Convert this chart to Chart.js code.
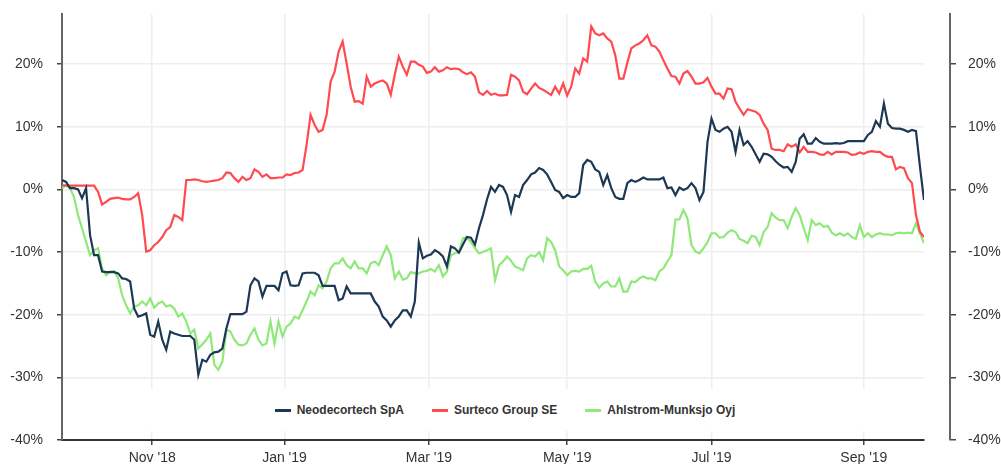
<!DOCTYPE html>
<html>
<head>
<meta charset="utf-8">
<script src="https://cdn.jsdelivr.net/npm/chart.js@4/dist/chart.umd.min.js"></script>
<style>
  body { margin: 0; background: #fff; }
  #wrap { position: relative; width: 1001px; height: 464px; }
  #legend {
    position: absolute; left: 63px; top: 389px; width: 860px; height: 42px;
    box-sizing: border-box; padding-left: 24px;
    background: #fff; display: flex; justify-content: center; align-items: center; gap: 28px;
    font: bold 12px "Liberation Sans", Arial, sans-serif; color: #333;
  }
  .item { display: flex; align-items: center; }
  .swatch { width: 16px; height: 3px; margin-right: 6px; }
</style>
</head>
<body>
<div id="wrap">
  <canvas id="chart" width="1001" height="464"></canvas>
  <div id="legend"></div>
</div>
<script>
// relative performance (%), one value per trading session, Sep '18 -> Sep '19
const seriesNames = ["Neodecortech SpA", "Surteco Group SE", "Ahlstrom-Munksjo Oyj"];
const seriesColors = ["#1d3854", "#ff4a4f", "#8fe879"];

const neodecortech = [
  1.5, 1.2, 0.2, 0.2, 0, -1.4, 0.2, -7.3, -10.5, -10.5,
  -13.1, -13.2, -13.2, -13.2, -13.4, -14.2, -14.3, -14.7, -19, -20.3,
  -20.1, -19.8, -23.2, -23.5, -21.1, -24, -25.6, -22.7, -23, -23.2,
  -23.4, -23.4, -23.4, -24, -29.6, -27.2, -27.5, -26.4, -26, -25.9,
  -25.4, -22.2, -19.9, -19.9, -19.9, -19.9, -19.5, -15.3, -14.2, -14.7,
  -17.1, -15.4, -15.4, -15.4, -16.1, -13.4, -13.1, -15.3, -15.4, -15.3,
  -13.4, -13.3, -13.3, -13.3, -13.7, -15.4, -15.4, -15.4, -15.4, -17.7,
  -17.4, -15.5, -16.6, -16.6, -16.6, -16.6, -16.6, -16.6, -17.9, -18.7,
  -20.3, -20.9, -21.9, -20.9, -20.3, -19.3, -19.3, -20.3, -17.9, -8.5,
  -11, -10.6, -10.4, -9.7, -10.1, -10.7, -12.3, -9.1, -9.4, -10.1,
  -8.8, -7.6, -7.7, -8.8, -6.2, -4.1, -1.6, 0.4, -0.4, 0.7,
  0.4, -0.9, -3.6, -0.9, -1.2, 0.7, 1.5, 2.4, 2.7, 3.4,
  3.1, 2.4, 1.2, -0.1, -0.4, -1.4, -0.9, -1.2, -1.2, -0.6,
  3.9, 4.7, 4.4, 3.2, 2.8, 0.7, 2.3, 0.2, -1.2, -1.5,
  -1.5, 1.0, 1.5, 1.2, 1.5, 1.9, 1.6, 1.6, 1.6, 1.6,
  1.9, 0.2, 0.3, -0.9, 0.3, -0.1, 0.2, 1, 0.2, -1.7,
  -0.4, 7.6, 11.3, 9.5, 9.2, 9.7, 10, 9.2, 6, 9.5,
  7.1, 7.7, 6.8, 5.6, 4.4, 5.7, 5.6, 5.2, 4.5, 3.9,
  3.5, 3.6, 2.8, 4.4, 8.1, 8.8, 7.3, 7.3, 8.2, 7.6,
  7.3, 7.3, 7.3, 7.4, 7.3, 7.4, 7.7, 7.7, 7.7, 7.7,
  7.7, 8.7, 9.2, 10.9, 10, 13.7, 10.5, 9.8, 9.7, 9.7,
  9.5, 9.2, 9.5, 9.3, 3.6, -1.7
];

const surteco = [
  0.7, 0.6, 0.6, 0.6, 0.6, 0.6, 0.6, 0.6, 0.6, -0.4,
  -2.4, -2.0, -1.5, -1.4, -1.3, -1.5, -1.6, -1.6, -1.2, -0.6,
  -4.1, -9.9, -9.7, -8.9, -8.4, -7.6, -6.5, -6.0, -4.1, -4.4,
  -4.9, 1.5, 1.5, 1.6, 1.5, 1.3, 1.2, 1.3, 1.4, 1.5,
  1.8, 2.7, 2.6, 1.8, 1.2, 2.0, 1.5, 1.8, 3.2, 2.8,
  2.0, 2.4, 1.8, 1.8, 1.9, 1.9, 2.4, 2.3, 2.6, 2.7,
  3.1, 7.1, 11.9, 10.3, 9.2, 9.5, 11.9, 17.2, 18.8, 22,
  23.6, 20.1, 16.4, 14, 14.1, 13.7, 18, 16.4, 16.9, 17.2,
  17.4, 16.9, 15.1, 18.3, 21.2, 19.6, 18.3, 20.4, 20.4, 19.9,
  19.6, 18.6, 18.8, 19.5, 18.8, 19, 19.5, 19.2, 19.3, 19.2,
  18.7, 18.4, 18.7, 18, 15.5, 15.1, 15.7, 15.1, 15.3, 15,
  15, 15.1, 18.3, 18, 17.4, 15.6, 15.2, 16.1, 16.9, 16.2,
  15.9, 15.5, 15.1, 16.4, 15.3, 16.9, 15, 16.4, 19.3, 18.5,
  20.9, 20.4, 26, 24.9, 24.6, 24.9, 24.1, 23.6, 21.4, 17.7,
  17.7, 20.2, 22.5, 23, 23.3, 23.8, 24.6, 23, 22.8, 22,
  20.6, 19.3, 18.1, 18, 16.9, 18.5, 18.9, 18, 16.9, 16.9,
  17.1, 17.8, 16.4, 15.3, 15.3, 14.5, 16.1, 16, 14, 12.9,
  11.9, 12.8, 12.6, 12.4, 11.9, 10.5, 9.5, 6.5, 6.3, 6.3,
  6.1, 7.2, 6.8, 7.2, 5.9, 6.8, 6, 6, 5.9, 5.6,
  5.5, 6, 5.6, 6, 6, 6, 5.9, 5.5, 5.6, 5.9,
  5.7, 6, 6.1, 6, 6, 5.5, 5.2, 5.2, 3.2, 3.6,
  3.4, 1.8, 1, -4.1, -6.8, -7.6
];

const ahlstrom = [
  0.2, 0.7, 0.2, -1.2, -4.1, -6.2, -8.4, -10.5, -9.7, -9.4,
  -12.6, -13.7, -13.1, -13, -14.2, -16.9, -18.5, -19.8, -18.7, -18.5,
  -17.9, -18.5, -17.4, -18.9, -18.2, -17.9, -18.7, -18.5, -19, -20.3,
  -19.8, -21.1, -23, -22.4, -25.4, -24.7, -24, -23, -28, -28.8,
  -27.5, -22.4, -22.7, -24, -24.8, -24.9, -24.6, -23.2, -22.2, -24,
  -24.9, -24.6, -21.1, -24.6, -21.1, -23.5, -21.9, -21.4, -20.3, -20.6,
  -19.3, -17.9, -16.3, -16.9, -15.3, -15.8, -14.7, -12.6, -11.8, -11.8,
  -11, -12.1, -12.6, -11.5, -12.6, -12.6, -13.4, -11.8, -11.5, -12.1,
  -10.5, -9.1, -10.5, -14.2, -13.1, -14.4, -14.2, -13.2, -13.4, -13.4,
  -13.1, -13, -12.7, -13.1, -12.1, -13.9, -13.1, -10.5, -10.2, -10,
  -7.8, -7.7, -8.4, -9.4, -10.2, -10, -9.7, -9.4, -14.5, -12.1,
  -11.5, -10.7, -11.4, -12.3, -12.6, -12.9, -11, -10.5, -10.7, -10,
  -11.3, -7.8, -8.4, -9.7, -12.3, -12.9, -13.7, -13.1, -13, -13.1,
  -12.7, -12.7, -12.2, -14.7, -15.7, -15, -14.7, -15.5, -15.5, -14.2,
  -16.3, -16.3, -14.7, -14.8, -14.2, -13.9, -14.2, -14.2, -14.5, -13.1,
  -12.6, -11.5, -10.5, -4.8, -4.8, -3.3, -4.6, -8.9, -9.9, -10.2,
  -9.4, -8.4, -7, -7, -7.7, -7.6, -6.9, -6.5, -6.8, -7.9,
  -8.2, -8.6, -7.4, -7.6, -8.9, -6.8, -6, -3.8, -4.5, -4.9,
  -4.9, -6.2, -4.4, -3, -4.1, -6.2, -8.1, -4.9, -5.7, -5.4,
  -6, -5.8, -6.9, -7.3, -7, -7.4, -7, -7.6, -7.9, -5.7,
  -7.6, -7, -7.6, -7.2, -7, -7.2, -7.2, -7.3, -7, -6.9,
  -7, -6.9, -7, -5.4, -7, -8.6
];

// session index where each labelled month starts
const monthTicks = [22.5, 55.5, 91.5, 126, 162, 200];
const monthLabels = ["Nov '18", "Jan '19", "Mar '19", "May '19", "Jul '19", "Sep '19"];

// y ticks (%)
const yMin = -40;
const yMax = 28;
const yStep = 10;

// ==================== SETUP ====================

const sessions = neodecortech.map((v, i) => i);
const allSeries = [neodecortech, surteco, ahlstrom];

Chart.defaults.font.family = '"Liberation Sans", Arial, sans-serif';
Chart.defaults.font.size = 14;
Chart.defaults.color = "#333";

const GRID = "#eeeeee";
const TICK = "#444";
const RIGHT_GAP = 26;

// push the right axis away from the plot, like the original
const shiftRightAxis = {
  id: "shiftRightAxis",
  afterLayout(chart) {
    const s = chart.scales.yRight;
    s.left += RIGHT_GAP;
    s.right += RIGHT_GAP;
  },
};

function yAxis(position) {
  const isLeft = position === "left";
  return {
    type: "linear",
    position: position,
    min: yMin,
    max: yMax,
    ticks: {
      stepSize: yStep,
      includeBounds: false,
      padding: isLeft ? 14 : 12,
      callback: (v) => v + "%",
    },
    grid: {
      color: GRID,
      lineWidth: 1.5,
      drawOnChartArea: isLeft,
      tickColor: TICK,
      tickLength: isLeft ? 5 : 6,
    },
    border: { display: true, color: "#666", width: 2 },
    afterFit: (scale) => {
      scale.width = isLeft ? 62 : 1001 - 924;
      scale.paddingTop = 0;
      scale.paddingBottom = 0;
    },
  };
}

new Chart(document.getElementById("chart"), {
  type: "line",
  data: {
    labels: sessions,
    datasets: allSeries.map((data, i) => ({
      label: seriesNames[i],
      data: data,
      borderColor: seriesColors[i],
      backgroundColor: seriesColors[i],
      borderWidth: 2.2,
      pointRadius: 0,
      tension: 0,
      yAxisID: "y",
    })),
  },
  options: {
    responsive: false,
    animation: false,
    layout: { padding: { top: 14, left: 0, right: 0, bottom: 0 } },
    plugins: {
      legend: { display: false },
      tooltip: { enabled: false },
    },
    scales: {
      x: {
        type: "linear",
        min: 0,
        max: sessions.length - 1,
        afterBuildTicks: (scale) => {
          scale.ticks = monthTicks.map((v) => ({ value: v }));
        },
        ticks: {
          autoSkip: false,
          maxRotation: 0,
          padding: 5,
          callback: (v, i) => monthLabels[i],
        },
        grid: { color: GRID, lineWidth: 1.5, tickColor: TICK, tickLength: 5 },
        border: { display: true, color: "#333", width: 2 },
        afterFit: (scale) => {
          scale.height = 24;
          scale.paddingLeft = 0;
          scale.paddingRight = 0;
        },
      },
      y: yAxis("left"),
      yRight: yAxis("right"),
    },
  },
  plugins: [shiftRightAxis],
});

// ==================== LEGEND ====================

const legend = document.getElementById("legend");
seriesNames.forEach((name, i) => {
  const item = document.createElement("div");
  item.className = "item";
  item.innerHTML = `<span class="swatch" style="background:${seriesColors[i]}"></span><span>${name}</span>`;
  legend.appendChild(item);
});
</script>
</body>
</html>
